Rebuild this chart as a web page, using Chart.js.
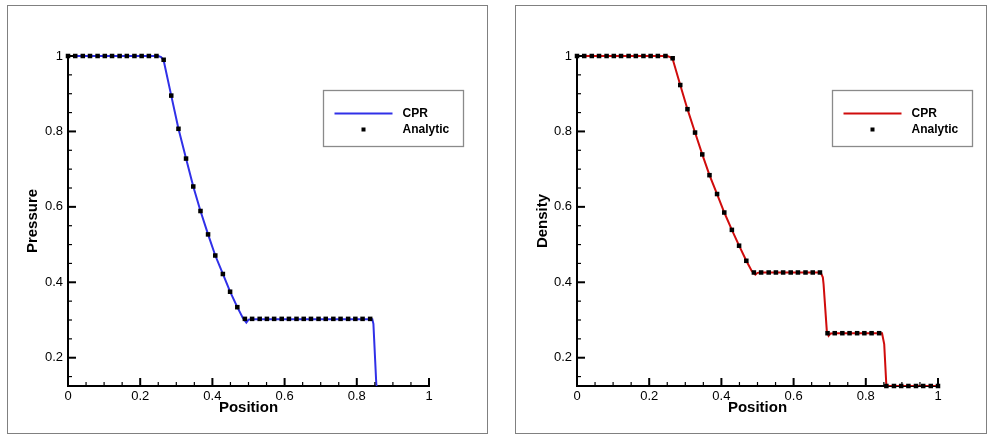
<!DOCTYPE html>
<html><head><meta charset="utf-8">
<script src="https://cdn.jsdelivr.net/npm/chart.js@4.4.1/dist/chart.umd.min.js"></script>
<style>
html,body{margin:0;padding:0;background:#fff;width:987px;height:435px;overflow:hidden;}
.frame{position:absolute;border:1px solid #808080;background:#fff;}
canvas{display:block;}
</style></head><body>
<div class="frame" style="left:7px;top:5px;width:479px;height:427px;"><canvas id="c1" width="479" height="427"></canvas></div>
<div class="frame" style="left:515px;top:5px;width:470px;height:427px;"><canvas id="c2" width="470" height="427"></canvas></div>
<script>
// ---- data ----
const analyticX = [0,0.020,0.041,0.061,0.082,0.102,0.122,0.143,0.163,0.184,0.204,0.224,0.245,0.265,0.286,0.306,0.327,0.347,0.367,0.388,0.408,0.429,0.449,0.469,0.490,0.510,0.531,0.551,0.571,0.592,0.612,0.633,0.653,0.673,0.694,0.714,0.735,0.755,0.776,0.796,0.816,0.837,0.857,0.878,0.898,0.918,0.939,0.959,0.980,1.000];
const pressureAnalytic = [1,1,1,1,1,1,1,1,1,1,1,1,1,0.990,0.895,0.807,0.728,0.654,0.589,0.527,0.471,0.422,0.375,0.334,0.303,0.303,0.303,0.303,0.303,0.303,0.303,0.303,0.303,0.303,0.303,0.303,0.303,0.303,0.303,0.303,0.303,0.303];
const densityAnalytic = [1,1,1,1,1,1,1,1,1,1,1,1,1,0.994,0.923,0.859,0.797,0.739,0.684,0.634,0.585,0.539,0.497,0.457,0.426,0.426,0.426,0.426,0.426,0.426,0.426,0.426,0.426,0.426,0.265,0.265,0.265,0.265,0.265,0.265,0.265,0.265,0.125,0.125,0.125,0.125,0.125,0.125,0.125,0.125];
const pressureCprX = [0,0.250,0.258,0.265,0.286,0.306,0.327,0.347,0.367,0.388,0.408,0.429,0.449,0.469,0.484,0.494,0.500,0.510,0.800,0.843,0.846,0.848,0.851,0.854,0.857,0.870,1.000];
const pressureCprY = [1,1,0.997,0.988,0.895,0.807,0.728,0.654,0.589,0.527,0.471,0.422,0.375,0.334,0.306,0.293,0.301,0.302,0.302,0.302,0.290,0.250,0.190,0.130,0.100,0.100,0.100];
const densityCprX = [0,0.250,0.258,0.265,0.286,0.306,0.327,0.347,0.367,0.388,0.408,0.429,0.449,0.469,0.484,0.494,0.500,0.510,0.670,0.675,0.681,0.683,0.692,0.697,0.702,0.720,0.840,0.845,0.851,0.857,0.870,1.000];
const densityCprY = [1,1,0.997,0.992,0.923,0.859,0.797,0.739,0.684,0.634,0.585,0.539,0.497,0.457,0.430,0.420,0.425,0.426,0.426,0.426,0.413,0.395,0.271,0.258,0.264,0.265,0.265,0.265,0.236,0.125,0.125,0.125];
const xTickValues = [0,0.2,0.4,0.6,0.8,1];
const xTickLabels = ['0','0.2','0.4','0.6','0.8','1'];
const yTickValues = [0.2,0.4,0.6,0.8,1];
const yTickLabels = ['0.2','0.4','0.6','0.8','1'];
const seriesNames = ['CPR','Analytic'];
const xTitle = 'Position';
const yTitles = ['Pressure','Density'];
const yMin = 0.125, yMax = 1;

const FONT = '"Liberation Sans", Arial, Helvetica, sans-serif';

function pts(xs, ys){ return ys.map((y,i)=>({x:xs[i], y:y})); }
function lab(values, labels){ return v => { const i = values.findIndex(t=>Math.abs(t-v)<1e-9); return i>=0?labels[i]:''; }; }

const decor = {
  id:'decor',
  afterDraw(chart, args, opts){
    const ctx = chart.ctx, xs = chart.scales.x, ys = chart.scales.y, a = chart.chartArea;
    ctx.save();
    ctx.strokeStyle = '#000';
    for (let i=0;i<=20;i++){
      const v=i*0.05, major=i%4===0, px=xs.getPixelForValue(v);
      ctx.lineWidth = major?2:1.2;
      ctx.beginPath(); ctx.moveTo(px, a.bottom); ctx.lineTo(px, a.bottom-(major?8:4)); ctx.stroke();
    }
    for (let i=3;i<=20;i++){
      const v=i*0.05; if (v<yMin) continue;
      const major=i%4===0, py=ys.getPixelForValue(v);
      ctx.lineWidth = major?2:1.2;
      ctx.beginPath(); ctx.moveTo(a.left, py); ctx.lineTo(a.left+(major?8:4), py); ctx.stroke();
    }
    // legend box
    const bx = Math.round(a.right-106)+0.5, by = Math.round(a.top+34)+0.5, bw=140, bh=56;
    ctx.fillStyle='#fff'; ctx.fillRect(bx,by,bw,bh);
    ctx.strokeStyle='#8a8a8a'; ctx.lineWidth=1.3; ctx.strokeRect(bx,by,bw,bh);
    const ds = chart.data.datasets;
    const cpr = ds.find(d=>d.label===seriesNames[0]);
    const an = ds.find(d=>d.label===seriesNames[1]);
    ctx.strokeStyle=cpr.borderColor; ctx.lineWidth=2;
    ctx.beginPath(); ctx.moveTo(bx+11, by+23); ctx.lineTo(bx+69, by+23); ctx.stroke();
    ctx.fillStyle='#000'; ctx.fillRect(bx+38, by+37, 4, 4);
    ctx.font='bold 12px '+FONT; ctx.textBaseline='middle'; ctx.textAlign='left';
    ctx.fillText(cpr.label, bx+79, by+23);
    ctx.fillText(an.label, bx+79, by+39);
    ctx.restore();
  }
};

function makeChart(id, cprX, cprY, anY, color, yTitle, yWidth, padRight, yTitlePad){
  const anData = anY.map((y,i)=>({x:analyticX[i], y:y}));
  return new Chart(document.getElementById(id), {
    type:'scatter',
    data:{datasets:[
      {label:seriesNames[1], data:anData, pointStyle:'rect', pointRadius:3.2, pointBorderWidth:0,
       pointBackgroundColor:'#000', backgroundColor:'#000', borderColor:'#000', showLine:false, order:1,
       clip:{left:5,right:5,top:5,bottom:3}},
      {label:seriesNames[0], data:pts(cprX,cprY), showLine:true, borderColor:color, borderWidth:2,
       pointRadius:0, tension:0, order:2, clip:{left:2,right:2,top:3,bottom:0}}
    ]},
    options:{
      responsive:false, animation:false, devicePixelRatio:1,
      layout:{padding:{left:0,right:padRight,top:50,bottom:0}},
      plugins:{legend:{display:false}, tooltip:{enabled:false}},
      scales:{
        x:{type:'linear', min:0, max:1,
           afterBuildTicks:s=>{s.ticks=xTickValues.map(v=>({value:v}));},
           afterFit:s=>{s.height=47;},
           grid:{display:false, drawTicks:false},
           border:{display:true, color:'#000', width:2},
           ticks:{color:'#000', padding:3, maxRotation:0, autoSkip:false, font:{family:FONT,size:13}, callback:lab(xTickValues,xTickLabels)},
           title:{display:true, text:xTitle, color:'#000', font:{family:FONT,size:15,weight:'bold'}, padding:{top:0,bottom:16}}},
        y:{type:'linear', min:yMin, max:yMax,
           afterBuildTicks:s=>{s.ticks=yTickValues.map(v=>({value:v}));},
           afterFit:s=>{s.width=yWidth;},
           grid:{display:false, drawTicks:false},
           border:{display:true, color:'#000', width:2},
           ticks:{color:'#000', padding:5, autoSkip:false, font:{family:FONT,size:13}, callback:lab(yTickValues,yTickLabels)},
           title:{display:true, text:yTitle, color:'#000', font:{family:FONT,size:15,weight:'bold'}, padding:{top:yTitlePad,bottom:0}}}
      }
    },
    plugins:[decor]
  });
}

makeChart('c1', pressureCprX, pressureCprY, pressureAnalytic, 'rgb(48,48,232)', yTitles[0], 60, 58, 16);
makeChart('c2', densityCprX, densityCprY, densityAnalytic, 'rgb(208,12,12)', yTitles[1], 61, 48, 17.5);
</script>
</body></html>
